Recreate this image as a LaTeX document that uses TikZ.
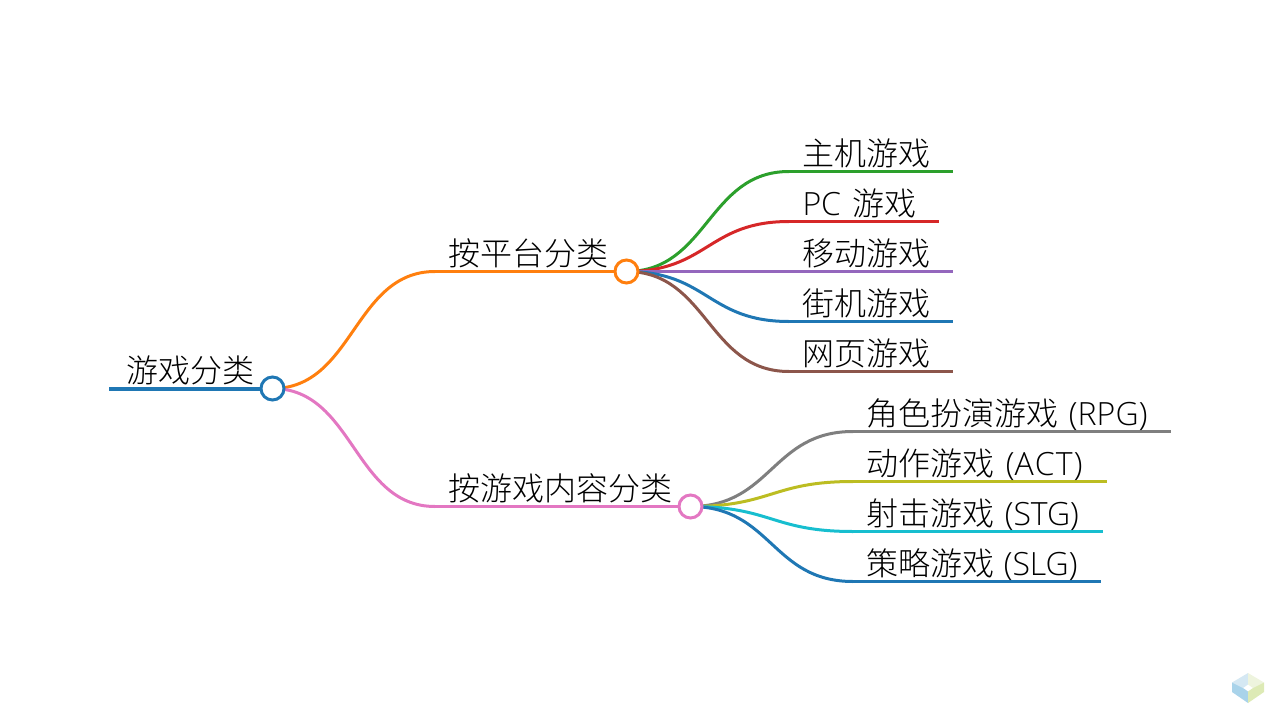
\documentclass[tikz,border=0pt]{standalone}
\usepackage{fontspec}
\setmainfont{Noto Sans CJK SC Light}
\newfontfamily\lat{Open Sans Light}
\usetikzlibrary{calc}
\definecolor{cA}{HTML}{1F77B4}
\definecolor{cB}{HTML}{FF7F0E}
\definecolor{cC}{HTML}{2CA02C}
\definecolor{cD}{HTML}{D62728}
\definecolor{cE}{HTML}{9467BD}
\definecolor{cF}{HTML}{8C564B}
\definecolor{cG}{HTML}{E377C2}
\definecolor{cH}{HTML}{7F7F7F}
\definecolor{cI}{HTML}{BCBD22}
\definecolor{cJ}{HTML}{17BECF}
\definecolor{lgA}{HTML}{D5E8F3}
\definecolor{lgB}{HTML}{EEF4DE}
\definecolor{lgC}{HTML}{A9D3EA}
\definecolor{lgD}{HTML}{DDEAB5}
\tikzset{
  lbl/.style={anchor=base west,inner sep=0pt,outer sep=0pt,font=\fontsize{32}{38}\selectfont,text=black},
  dotnode/.style={circle,draw=#1,line width=3pt,fill=white,minimum size=23pt,inner sep=0pt,outer sep=0pt},
  branch/.style={draw=#1,line width=3pt},
}
\begin{document}
\begin{tikzpicture}[x=1pt,y=-1pt]
\useasboundingbox (0,0) rectangle (1280,720);
% line ends
\coordinate (rs) at (109,388.5);
\coordinate (rc) at (272.5,388.5);
\coordinate (p1s) at (435,271.5); \coordinate (p2s) at (435,506.5);
\coordinate (p1c) at (626.5,271.5);
\coordinate (p2c) at (690.5,506.5);
\coordinate (a1) at (789,171.5); \coordinate (a1e) at (953,171.5);
\coordinate (a2) at (789,221.5); \coordinate (a2e) at (939,221.5);
\coordinate (a3) at (789,271.5); \coordinate (a3e) at (953,271.5);
\coordinate (a4) at (789,321.5); \coordinate (a4e) at (953,321.5);
\coordinate (a5) at (789,371.5); \coordinate (a5e) at (953,371.5);
\coordinate (b1) at (853,431.5); \coordinate (b1e) at (1171,431.5);
\coordinate (b2) at (853,481.5); \coordinate (b2e) at (1107,481.5);
\coordinate (b3) at (853,531.5); \coordinate (b3e) at (1103,531.5);
\coordinate (b4) at (853,581.5); \coordinate (b4e) at (1101,581.5);
% curves
\foreach \f/\t/\c in {rc/p1s/cB,rc/p2s/cG,p1c/a1/cC,p1c/a2/cD,p1c/a3/cE,p1c/a4/cA,p1c/a5/cF,p2c/b1/cH,p2c/b2/cI,p2c/b3/cJ,p2c/b4/cA}{
  \draw[branch=\c] (\f) .. controls ($(\f)+(81.25,0)$) and ($(\t)+(-81.25,0)$) .. (\t);
}
% underlines
\draw[branch=cA,line width=4pt] (rs) -- (rc);
\draw[branch=cB] (p1s) -- (p1c);
\draw[branch=cG] (p2s) -- (p2c);
\draw[branch=cC] (a1) -- (a1e);
\draw[branch=cD] (a2) -- (a2e);
\draw[branch=cE] (a3) -- (a3e);
\draw[branch=cA] (a4) -- (a4e);
\draw[branch=cF] (a5) -- (a5e);
\draw[branch=cH] (b1) -- (b1e);
\draw[branch=cI] (b2) -- (b2e);
\draw[branch=cJ] (b3) -- (b3e);
\draw[branch=cA] (b4) -- (b4e);
% dots
\node[dotnode=cA] (root) at (rc) {};
\node[dotnode=cB] (p1) at (p1c) {};
\node[dotnode=cG] (p2) at (p2c) {};
% labels
\node[lbl] (troot) at (126.5,382) {游戏分类};
\node[lbl] (tp1) at (448.5,265) {按平台分类};
\node[lbl] (tp2) at (448.5,500) {按游戏内容分类};
\node[lbl] (ta1) at (802.5,165) {主机游戏};
\node[lbl] (ta2) at (802.5,215) {{\lat PC\kern3.5pt\ }游戏};
\node[lbl] (ta3) at (802.5,265) {移动游戏};
\node[lbl] (ta4) at (802.5,315) {街机游戏};
\node[lbl] (ta5) at (802.5,365) {网页游戏};
\node[lbl] (tb1) at (866.5,425) {角色扮演游戏{\lat\kern2pt\ (R\kern.2pt P\kern.2pt G\kern.2pt)}};
\node[lbl] (tb2) at (866.5,475) {动作游戏{\lat\kern3pt\ (A\kern1.2pt C\kern1.2pt T\kern1.2pt)}};
\node[lbl] (tb3) at (866.5,525) {射击游戏{\lat\kern2pt\ (STG)}};
\node[lbl] (tb4) at (866.5,575) {策略游戏{\lat\kern1pt\ (SLG)}};
% logo
\fill[lgA] (1248,673) -- (1232,682.5) -- (1243,688) -- (1248,684.5) -- cycle;
\fill[lgB] (1248,673) -- (1264,682.5) -- (1253,688) -- (1248,684.5) -- cycle;
\fill[lgC] (1232,682.5) -- (1232,692) -- (1248,703) -- (1248,691.5) -- (1243,688) -- cycle;
\fill[lgD] (1264,682.5) -- (1264,692) -- (1248,703) -- (1248,691.5) -- (1253,688) -- cycle;
\end{tikzpicture}
\end{document}
